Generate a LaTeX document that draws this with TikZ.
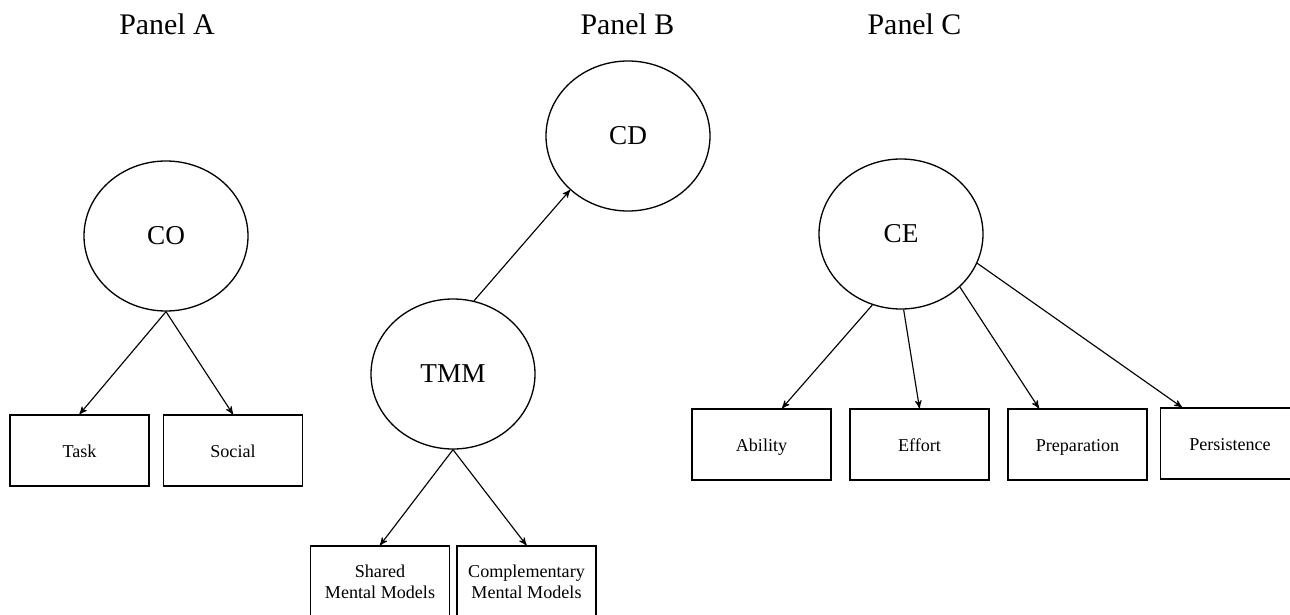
\documentclass[tikz,border=0pt]{standalone}
\usepackage{fontspec}
\setmainfont{Liberation Serif}
\usepackage{tikz}
\usetikzlibrary{arrows,shapes.geometric}
\tikzset{
  panel_t/.style = {anchor=base, inner sep=0pt,
    font=\fontsize{17}{20}\selectfont},% titre du panneau
  lat_v/.style = {ellipse, draw=black, line width=0.75pt,
    minimum width=3.28cm, minimum height=3cm,
    font=\fontsize{15.5}{18}\selectfont},% variable latente
  obs_v/.style = {rectangle, draw=black, line width=0.8pt, align=center,
    minimum width=2.78cm, minimum height=1.42cm,
    font=\fontsize{10.3}{12}\selectfont},% indicateur
  obs_s/.style = {obs_v, text height=2.2ex, text depth=.45ex}% indicateur, une ligne
}

\begin{document}
\begin{tikzpicture}[->,>=stealth',line width=0.65pt]
    \useasboundingbox (0,0) rectangle (25.8,-12.3);
    \clip (0,0) rectangle (25.8,-12.3);
    % titres
    \node [panel_t] (ttlA) at (3.34,-0.7) {Panel A};
    \node [panel_t] (ttlB) at (12.55,-0.7) {Panel B};
    \node [panel_t] (ttlC) at (18.29,-0.7) {Panel C};
    % panel A
    \node [lat_v] (co) at (3.32,-4.72) {CO};
    \node [obs_s] (task) at (1.59,-9.01) {Task};
    \node [obs_s] (social) at (4.66,-9.01) {Social};
    \draw (co.south) -- (task.north);
    \draw (co.south) -- (social.north);
    % panel B
    \node [lat_v] (cd) at (12.56,-2.72) {CD};
    \node [lat_v] (tmm) at (9.06,-7.48) {TMM};
    \node [obs_v] (shared) at (7.6,-11.63) {Shared\\Mental Models};
    \node [obs_v] (compl) at (10.53,-11.63) {Complementary\\Mental Models};
    \draw (tmm.74) -- (cd.223);
    \draw (tmm.south) -- (shared.north);
    \draw (tmm.south) -- (compl.north);
    % panel C
    \node [lat_v] (ce) at (18.02,-4.68) {CE};
    \node [obs_s] (ability) at (15.23,-8.89) {Ability};
    \node [obs_s] (effort) at (18.39,-8.89) {Effort};
    \node [obs_s] (prep) at (21.55,-8.89) {Preparation};
    \node [obs_s] (persist) at (24.6,-8.87) {Persistence};
    \draw (ce.248) -- ([xshift=0.41cm]ability.north);
    \draw (ce.272) -- (effort.north);
    \draw (ce.318) -- ([xshift=-0.77cm]prep.north);
    \draw (ce.339) -- ([xshift=-0.96cm]persist.north);
\end{tikzpicture}
\end{document}
